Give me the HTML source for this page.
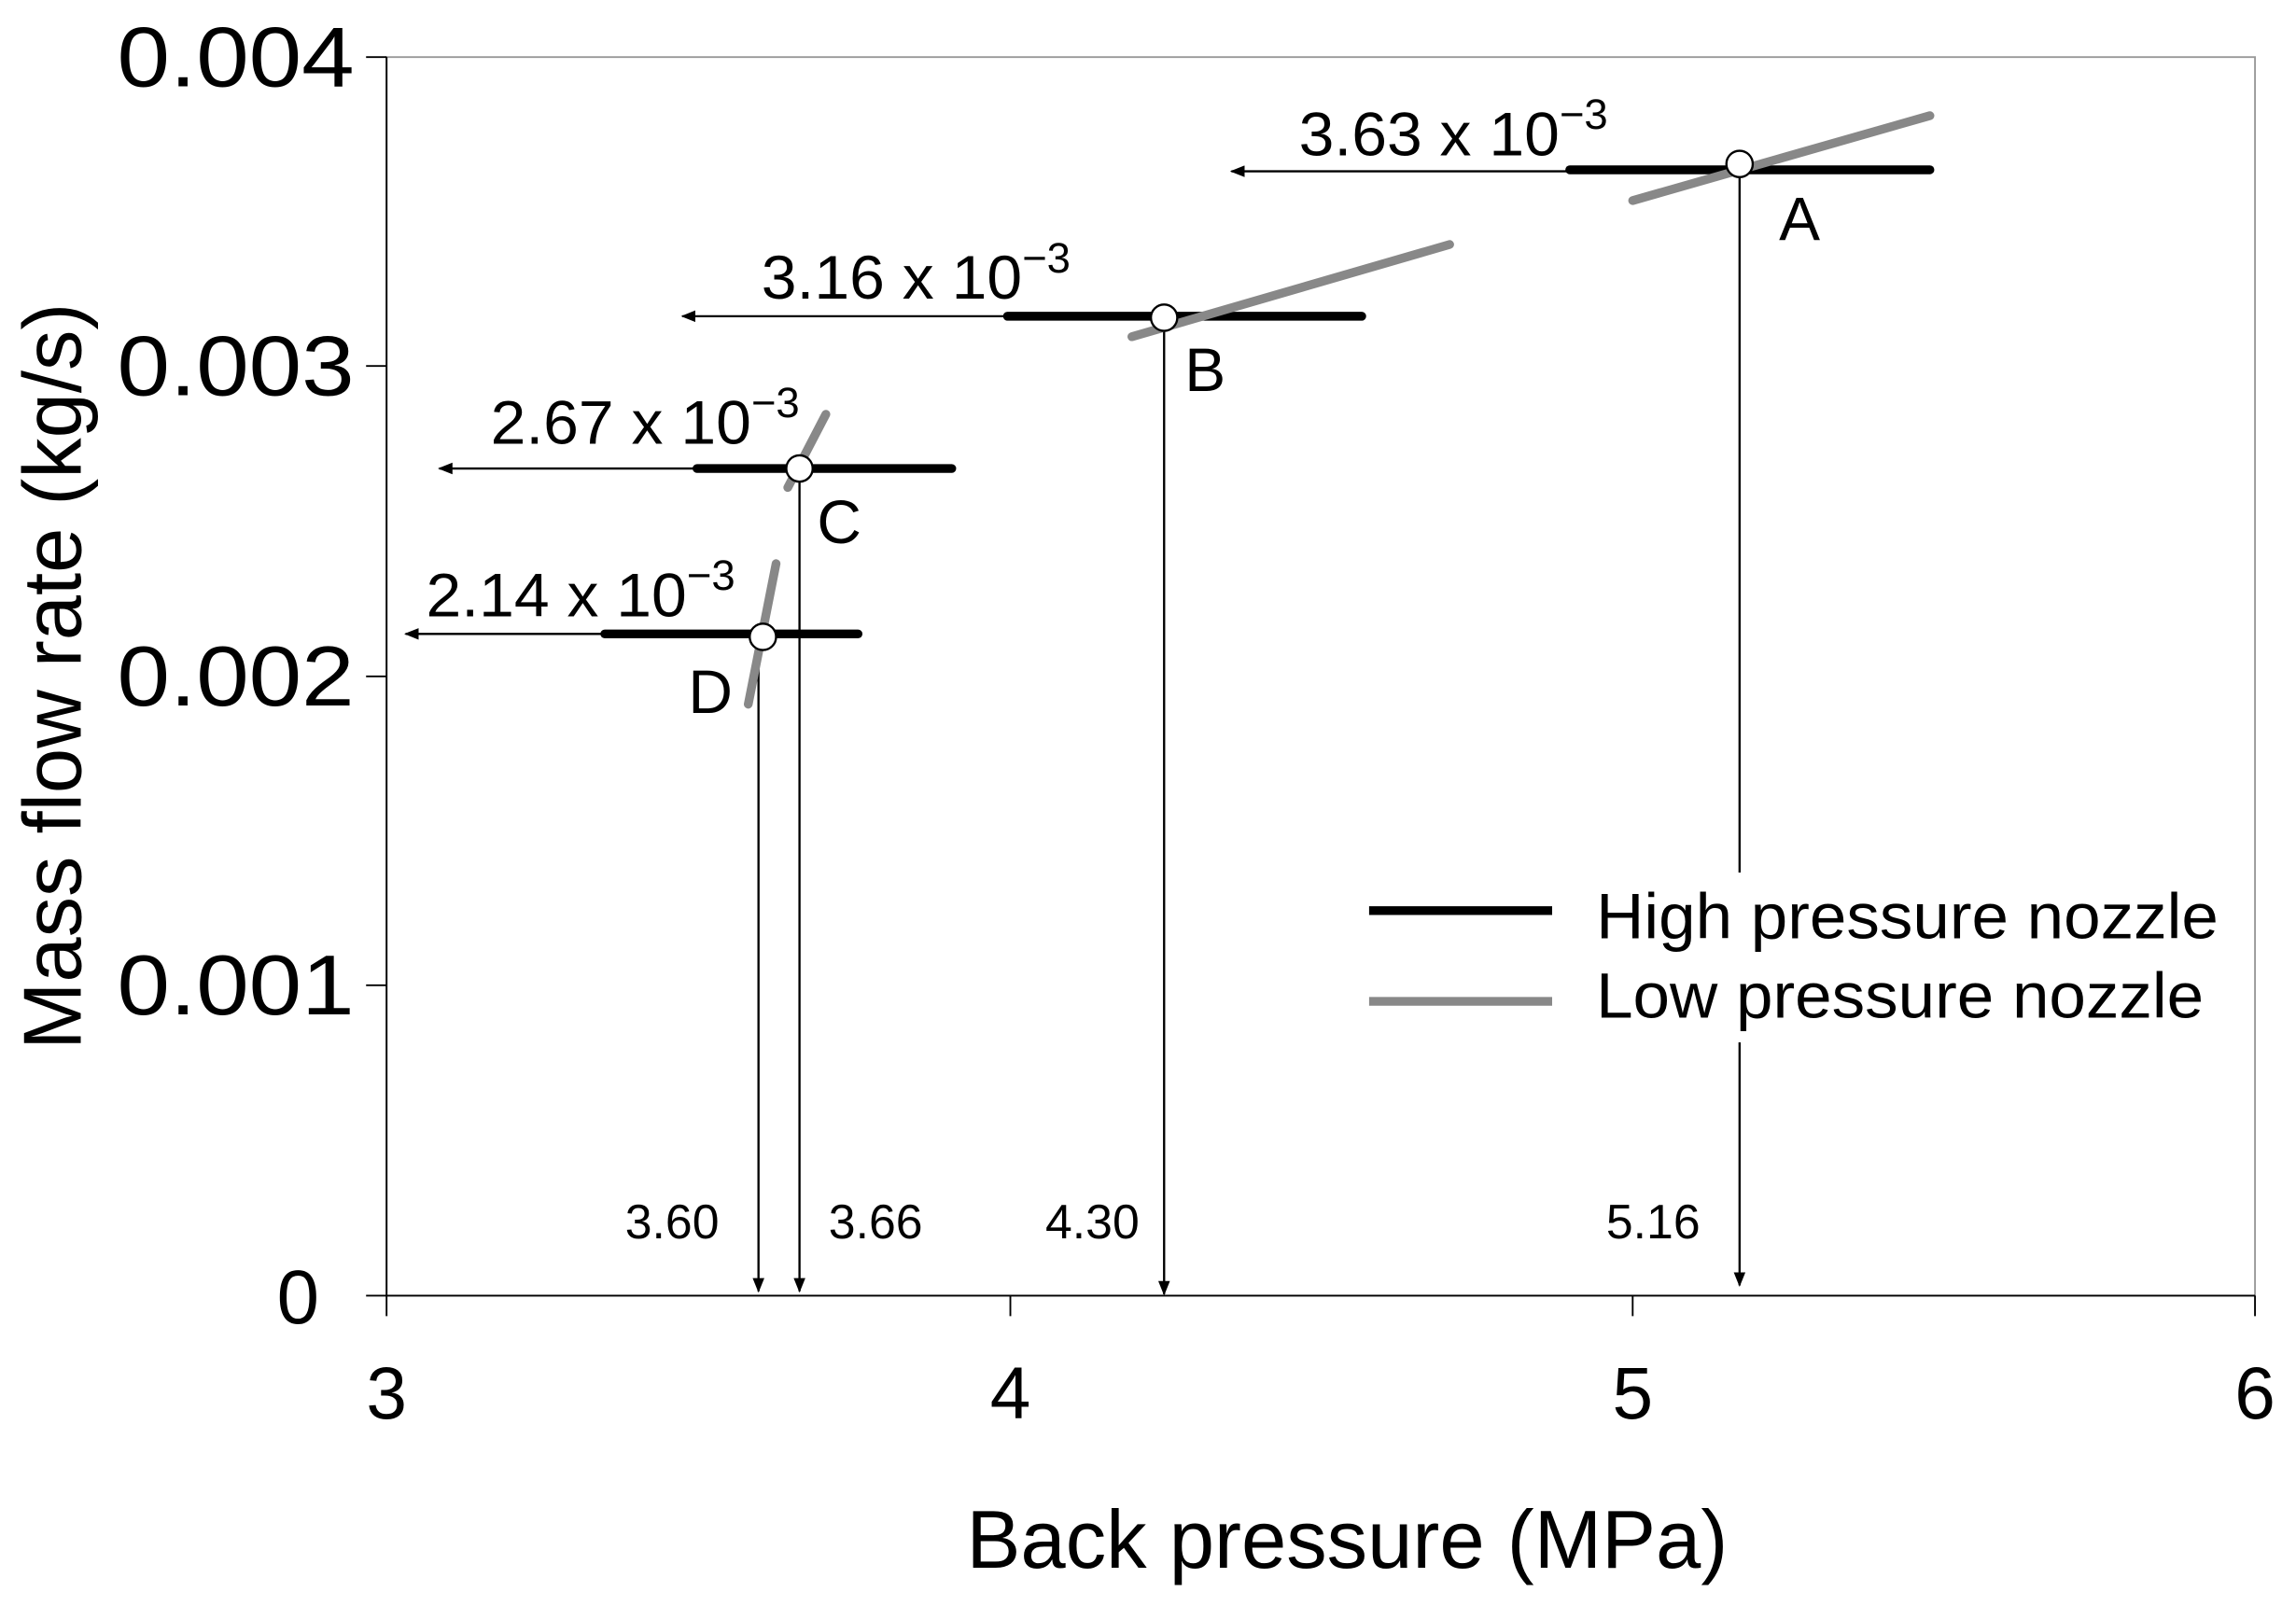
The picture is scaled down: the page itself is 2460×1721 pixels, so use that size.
<!DOCTYPE html>
<html><head><meta charset="utf-8"><style>html,body{margin:0;padding:0;background:#fff}svg{display:block}</style></head>
<body>
<svg width="2460" height="1721" viewBox="0 0 1568 1097" preserveAspectRatio="none" xmlns="http://www.w3.org/2000/svg" font-family="Liberation Sans, Arial, sans-serif">
<defs><marker id="ah" markerWidth="10" markerHeight="8" refX="9" refY="4" orient="auto" markerUnits="userSpaceOnUse"><path d="M0,0 L10,4 L0,8 z" fill="#000"/></marker></defs>
<rect x="264" y="39" width="1276" height="846" fill="none" stroke="#999" stroke-width="1.2"/>
<g stroke="#000" stroke-width="1.2">
<line x1="264" y1="39" x2="264" y2="885"/><line x1="264" y1="885" x2="1540" y2="885"/>
<line x1="250" y1="39" x2="264" y2="39"/><line x1="250" y1="250" x2="264" y2="250"/><line x1="250" y1="462" x2="264" y2="462"/><line x1="250" y1="673" x2="264" y2="673"/><line x1="250" y1="885" x2="264" y2="885"/>
<line x1="264" y1="885" x2="264" y2="899"/><line x1="690" y1="885" x2="690" y2="899"/><line x1="1115" y1="885" x2="1115" y2="899"/><line x1="1540" y1="885" x2="1540" y2="899"/>
</g>
<g font-size="58" text-anchor="end" fill="#000">
<text x="242" y="59" textLength="162" lengthAdjust="spacingAndGlyphs">0.004</text><text x="242" y="270" textLength="162" lengthAdjust="spacingAndGlyphs">0.003</text><text x="242" y="482" textLength="162" lengthAdjust="spacingAndGlyphs">0.002</text><text x="242" y="693" textLength="162" lengthAdjust="spacingAndGlyphs">0.001</text><text x="218" y="904" font-size="52">0</text>
</g>
<g font-size="50" text-anchor="middle"><text x="264" y="969">3</text><text x="690" y="969">4</text><text x="1115" y="969">5</text><text x="1540" y="969">6</text></g>
<text x="920" y="1071" font-size="56" text-anchor="middle" textLength="520" lengthAdjust="spacingAndGlyphs">Back pressure (MPa)</text>
<text transform="translate(55,462) rotate(-90)" font-size="56" text-anchor="middle" textLength="510" lengthAdjust="spacingAndGlyphs">Mass flow rate (kg/s)</text>
<g stroke="#000" stroke-width="1.5" marker-end="url(#ah)">
<line x1="1188" y1="112" x2="1188" y2="878"/>
<line x1="795" y1="217" x2="795" y2="884"/>
<line x1="546" y1="320" x2="546" y2="882"/>
<line x1="518" y1="440" x2="518" y2="882"/>
<line x1="1072" y1="117" x2="841" y2="117"/>
<line x1="688" y1="216" x2="466" y2="216"/>
<line x1="475" y1="320" x2="300" y2="320"/>
<line x1="412" y1="433" x2="277" y2="433"/>
</g>
<rect x="920" y="596" width="610" height="116" fill="#fff"/>
<line x1="935" y1="622" x2="1060" y2="622" stroke="#000" stroke-width="6"/>
<line x1="935" y1="684" x2="1060" y2="684" stroke="#888" stroke-width="6"/>
<g font-size="44"><text x="1090" y="641" textLength="425" lengthAdjust="spacingAndGlyphs">High pressure nozzle</text><text x="1090" y="695" textLength="415" lengthAdjust="spacingAndGlyphs">Low pressure nozzle</text></g>
<g stroke-linecap="round" stroke-width="6">
<line x1="1072" y1="116" x2="1318" y2="116" stroke="#000"/>
<line x1="1115" y1="137" x2="1318" y2="79" stroke="#888"/>
<line x1="688" y1="216" x2="930" y2="216" stroke="#000"/>
<line x1="773" y1="230" x2="990" y2="167" stroke="#888"/>
<line x1="476" y1="320" x2="650" y2="320" stroke="#000"/>
<line x1="538" y1="333" x2="564" y2="283" stroke="#888"/>
<line x1="413" y1="433" x2="586" y2="433" stroke="#000"/>
<line x1="511" y1="481" x2="530" y2="385" stroke="#888"/>
</g>
<g fill="#fff" stroke="#000" stroke-width="1.5">
<circle cx="1188" cy="112" r="9"/><circle cx="795" cy="217" r="9"/><circle cx="546" cy="320" r="9"/><circle cx="521" cy="435" r="9"/>
</g>
<g font-size="42">
<text x="887" y="106"><tspan textLength="178" lengthAdjust="spacingAndGlyphs">3.63 x 10</tspan><tspan dy="-18" font-size="29">−3</tspan></text>
<text x="520" y="204"><tspan textLength="178" lengthAdjust="spacingAndGlyphs">3.16 x 10</tspan><tspan dy="-18" font-size="29">−3</tspan></text>
<text x="335" y="303"><tspan textLength="178" lengthAdjust="spacingAndGlyphs">2.67 x 10</tspan><tspan dy="-18" font-size="29">−3</tspan></text>
<text x="291" y="421"><tspan textLength="178" lengthAdjust="spacingAndGlyphs">2.14 x 10</tspan><tspan dy="-18" font-size="29">−3</tspan></text>
<text x="1215" y="164">A</text><text x="809" y="267">B</text><text x="558" y="371">C</text><text x="470" y="487">D</text>
</g>
<g font-size="33" text-anchor="middle"><text x="459" y="846">3.60</text><text x="598" y="846">3.66</text><text x="746" y="846">4.30</text><text x="1129" y="846">5.16</text></g>
</svg>
</body></html>
